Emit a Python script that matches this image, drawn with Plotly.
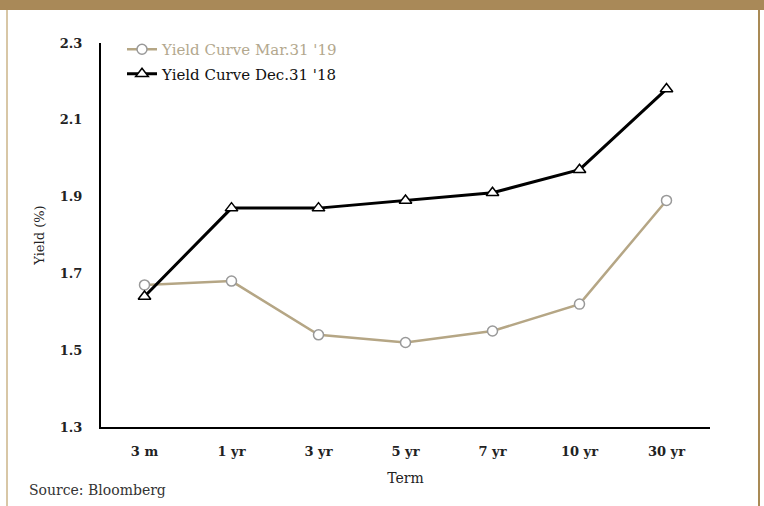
import plotly.graph_objects as go

terms = ["3 m", "1 yr", "3 yr", "5 yr", "7 yr", "10 yr", "30 yr"]
mar_2019 = [1.67, 1.68, 1.54, 1.52, 1.55, 1.62, 1.89]
dec_2018 = [1.64, 1.87, 1.87, 1.89, 1.91, 1.97, 2.18]
y_ticks = [1.3, 1.5, 1.7, 1.9, 2.1, 2.3]

SERIF = "DejaVu Serif, serif"
TAN_LINE = "#b5a685"
TAN_TEXT = "#b3a88e"

fig = go.Figure()
fig.add_trace(go.Scatter(
    x=terms, y=mar_2019, mode="lines+markers", legendgroup="mar",
    name=f"<span style='color:{TAN_TEXT}'>Yield Curve Mar.31 '19</span>",
    line=dict(color=TAN_LINE, width=2.5),
    marker=dict(symbol="circle", size=10, color="white",
                line=dict(color="#999999", width=1.5)),
))
fig.add_trace(go.Scatter(
    x=terms, y=dec_2018, mode="lines+markers", legendgroup="dec",
    name="Yield Curve Dec.31 '18",
    line=dict(color="black", width=3),
    marker=dict(symbol="triangle-up", size=11, color="white",
                line=dict(color="black", width=1.5)),
))

W, H = 764, 506
L, R, T, B = 101, 54, 43, 79
pw, ph = W - L - R, H - T - B


def px(xp):
    return (xp - L) / pw


def py(yp):
    return (H - B - yp) / ph


shapes = [
    dict(type="rect", xref="paper", yref="paper", x0=px(0), x1=px(W), y0=py(10), y1=py(-2),
         fillcolor="#a98958", line=dict(width=0), layer="below"),
    dict(type="line", xref="paper", yref="paper", x0=px(7), x1=px(7), y0=py(10), y1=py(H),
         line=dict(color="#d8c7a6", width=2)),
    dict(type="line", xref="paper", yref="paper", x0=px(759), x1=px(759), y0=py(10), y1=py(H),
         line=dict(color="#a98a55", width=2)),
]

fig.update_layout(
    width=W, height=H,
    margin=dict(l=L, r=R, t=T, b=B, pad=0),
    paper_bgcolor="white", plot_bgcolor="white",
    font=dict(family=SERIF, color="#222222", size=14),
    showlegend=True,
    legend=dict(x=px(122), y=py(33), xanchor="left", yanchor="top",
                bgcolor="rgba(0,0,0,0)", font=dict(family=SERIF, size=15, color="#111111"),
                itemwidth=30, tracegroupgap=2),
    xaxis=dict(
        type="category", range=[-0.5, 6.5], showgrid=False, zeroline=False,
        showline=True, linecolor="black", linewidth=2, ticks="", ticklabelstandoff=11,
        tickfont=dict(family=SERIF, size=13, color="#222222", weight="bold"),
        title=dict(text="Term", font=dict(family=SERIF, size=14, color="#222222"), standoff=16),
        fixedrange=True,
    ),
    yaxis=dict(
        range=[1.3, 2.3], tickvals=y_ticks, tickformat=".1f", showgrid=False, zeroline=False,
        showline=True, linecolor="black", linewidth=2, ticks="", ticklabelstandoff=14,
        tickfont=dict(family=SERIF, size=13, color="#222222", weight="bold"),
        title=dict(text="Yield (%)", font=dict(family=SERIF, size=13, color="#222222"), standoff=12),
        fixedrange=True,
    ),
    shapes=shapes,
    annotations=[
        dict(text="Source: Bloomberg", xref="paper", yref="paper", x=px(27), y=py(490),
             xanchor="left", yanchor="middle", showarrow=False,
             font=dict(family=SERIF, size=14, color="#333333")),
    ],
)

fig.write_html("out.html")
